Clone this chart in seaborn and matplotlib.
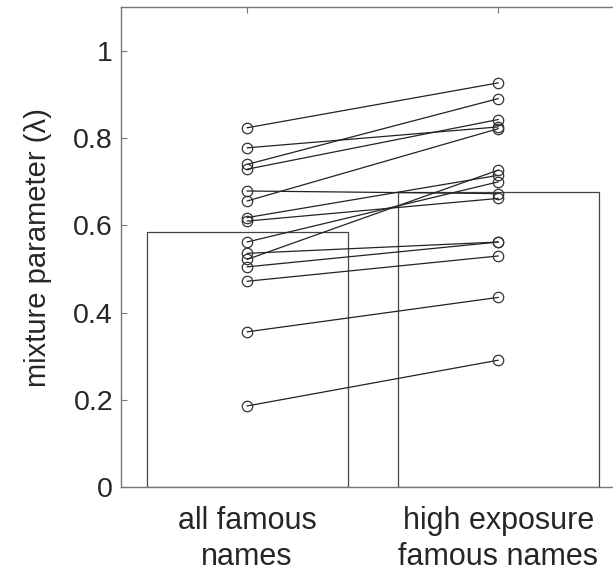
import matplotlib
matplotlib.use("Agg")
import matplotlib.pyplot as plt
import seaborn as sns
import pandas as pd

# per-subject mixture parameter (paired by line)
all_famous = [0.824, 0.778, 0.740, 0.729, 0.679, 0.656, 0.618, 0.610,
              0.562, 0.536, 0.522, 0.505, 0.472, 0.356, 0.186]
high_exposure = [0.927, 0.826, 0.891, 0.843, 0.673, 0.822, 0.715, 0.662,
                 0.700, 0.562, 0.727, 0.562, 0.530, 0.435, 0.291]
conditions = ["all famous\nnames", "high exposure\nfamous names"]
yticks = [0, 0.2, 0.4, 0.6, 0.8, 1]

n = len(all_famous)
df = pd.DataFrame({
    "subject": list(range(n)) * 2,
    "condition": [conditions[0]] * n + [conditions[1]] * n,
    "pos": [0] * n + [1] * n,
    "lam": all_famous + high_exposure,
})

sns.set_style("white")
plt.rcParams["font.family"] = ["Liberation Sans", "DejaVu Sans"]

fig = plt.figure(figsize=(6.13, 5.73), dpi=100)
ax = fig.add_axes([0.198, 0.150, 0.820, 0.837])

# bars are the condition means
sns.barplot(data=df, x="condition", y="lam", order=conditions, errorbar=None,
            color="white", edgecolor="#444444", linewidth=0.9, width=0.8, ax=ax)

# paired lines per subject
sns.lineplot(data=df, x="pos", y="lam", units="subject", estimator=None,
             color="#222222", linewidth=0.9, marker="o", markersize=7.5,
             markerfacecolor="none", markeredgecolor="#333333",
             markeredgewidth=0.9, legend=False, ax=ax)

ax.set_xlim(-0.5, 1.5)
ax.set_ylim(0, 1.1)
ax.set_yticks(yticks)
ax.set_yticklabels(["0", "0.2", "0.4", "0.6", "0.8", "1"])
ax.set_xticks([0, 1])
ax.set_xticklabels(conditions, linespacing=1.22)
ax.set_xlabel("")
ax.set_ylabel("mixture parameter (λ)", fontsize=21, labelpad=15)
ax.tick_params(axis="both", direction="in", length=4, color="#777777",
               top=True, right=False, left=True, bottom=True)
ax.tick_params(axis="x", labelsize=22, pad=14)
ax.tick_params(axis="y", labelsize=20.5, pad=6)
for s in ax.spines.values():
    s.set_color("#777777")
    s.set_linewidth(1.0)
ax.spines["right"].set_visible(False)

fig.savefig("out.png", dpi=100)
